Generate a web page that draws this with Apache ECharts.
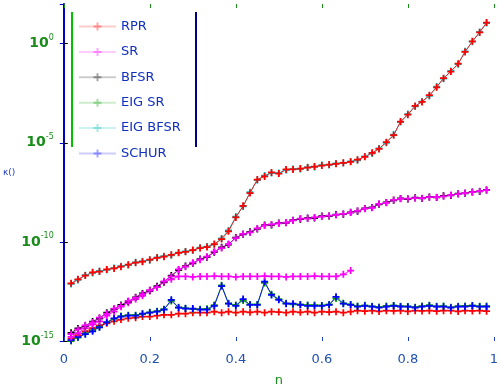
<!DOCTYPE html>
<html>
<head>
<meta charset="utf-8">
<script src="https://cdn.jsdelivr.net/npm/echarts@6/dist/echarts.min.js"></script>
<style>
  html, body { margin: 0; padding: 0; background: #fff; }
  #chart { width: 501px; height: 392px; }
</style>
</head>
<body>
<div id="chart"></div>
<script>
// n grid (x axis)
const nValues = [
  0.017, 0.033, 0.050, 0.067, 0.083, 0.100, 0.117, 0.133, 0.150, 0.167,
  0.183, 0.200, 0.217, 0.233, 0.250, 0.267, 0.283, 0.300, 0.317, 0.333,
  0.350, 0.367, 0.383, 0.400, 0.417, 0.433, 0.450, 0.467, 0.483, 0.500,
  0.517, 0.533, 0.550, 0.567, 0.583, 0.600, 0.617, 0.633, 0.650, 0.667,
  0.683, 0.700, 0.717, 0.733, 0.750, 0.767, 0.783, 0.800, 0.817, 0.833,
  0.850, 0.867, 0.883, 0.900, 0.917, 0.933, 0.950, 0.967, 0.983
];

const rprTop = [
  8.1e-13, 1.3e-12, 2.0e-12, 2.9e-12, 3.2e-12, 4.1e-12, 4.6e-12, 5.6e-12, 7.1e-12, 8.9e-12,
  1.0e-11, 1.26e-11, 1.58e-11, 1.78e-11, 2.24e-11, 2.82e-11, 3.16e-11, 3.89e-11, 4.9e-11, 5.5e-11,
  7.8e-11, 1.38e-10, 3.4e-10, 1.7e-9, 6.6e-9, 2.9e-8, 1.4e-7, 2.0e-7, 3.2e-7, 2.8e-7,
  4.5e-7, 4.5e-7, 5.0e-7, 5.6e-7, 6.3e-7, 7.1e-7, 7.9e-7, 8.7e-7, 9.8e-7, 1.1e-6,
  1.4e-6, 1.95e-6, 3.1e-6, 4.9e-6, 1.07e-5, 2.4e-5, 1.17e-4, 2.6e-4, 7.2e-4, 1.15e-3,
  2.5e-3, 6.3e-3, 1.8e-2, 3.9e-2, 9.8e-2, 0.38, 1.32, 3.7, 11.5
];
const eigBfsrTop = [
  7.6e-13, 1.2e-12, 2.1e-12, 2.7e-12, 3.4e-12, 3.9e-12, 4.8e-12, 5.9e-12, 6.8e-12, 9.3e-12,
  1.05e-11, 1.2e-11, 1.65e-11, 1.9e-11, 2.1e-11, 2.9e-11, 3.3e-11, 3.7e-11, 5.1e-11, 5.8e-11,
  7.4e-11, 1.5e-10, 3.8e-10, 1.9e-9, 6.1e-9, 3.2e-8, 1.3e-7, 2.2e-7, 3.0e-7, 3.0e-7,
  4.2e-7, 4.8e-7, 4.7e-7, 5.9e-7, 6.0e-7, 7.5e-7, 7.6e-7, 9.1e-7, 9.4e-7, 1.15e-6,
  1.3e-6, 2.05e-6, 2.9e-6, 5.2e-6, 1.0e-5, 2.6e-5, 1.1e-4, 2.8e-4, 6.8e-4, 1.2e-3,
  2.3e-3, 6.8e-3, 1.7e-2, 4.2e-2, 9.2e-2, 0.41, 1.25, 3.9, 11.0
];
const srUpper = [
  2.2e-15, 3.9e-15, 6.2e-15, 8.7e-15, 1.5e-14, 2.4e-14, 4.3e-14, 6.0e-14, 1.05e-13, 1.5e-13,
  2.3e-13, 3.7e-13, 5.2e-13, 1.02e-12, 1.8e-12, 4.1e-12, 5.6e-12, 8.9e-12, 1.26e-11, 1.78e-11,
  3.2e-11, 4.9e-11, 7.8e-11, 1.55e-10, 2.5e-10, 3.0e-10, 4.8e-10, 6.8e-10, 7.6e-10, 8.5e-10,
  9.5e-10, 1.2e-9, 1.5e-9, 1.5e-9, 1.7e-9, 1.9e-9, 2.1e-9, 2.3e-9, 2.6e-9, 3.0e-9,
  3.7e-9, 4.7e-9, 5.2e-9, 8.3e-9, 9.3e-9, 1.3e-8, 1.5e-8, 1.5e-8, 1.6e-8, 1.6e-8,
  1.8e-8, 1.8e-8, 2.0e-8, 2.3e-8, 2.6e-8, 2.9e-8, 3.2e-8, 3.6e-8, 4.1e-8
];
const bfsrUpper = [
  2.6e-15, 4.3e-15, 5.8e-15, 9.5e-15, 1.4e-14, 2.7e-14, 4.0e-14, 6.6e-14, 9.8e-14, 1.6e-13,
  2.5e-13, 3.5e-13, 5.8e-13, 9.5e-13, 2.0e-12, 3.8e-12, 6.0e-12, 8.3e-12, 1.35e-11, 1.7e-11,
  3.0e-11, 5.3e-11, 7.3e-11, 1.65e-10, 2.4e-10, 3.2e-10, 4.5e-10, 7.1e-10, 7.2e-10, 8.9e-10,
  9.1e-10, 1.25e-9, 1.4e-9, 1.6e-9, 1.6e-9, 2.0e-9, 2.0e-9, 2.4e-9, 2.5e-9, 3.1e-9,
  3.5e-9, 4.9e-9, 5.5e-9, 7.9e-9, 9.8e-9, 1.25e-8, 1.55e-8, 1.45e-8, 1.7e-8, 1.55e-8,
  1.85e-8, 1.75e-8, 2.1e-8, 2.2e-8, 2.7e-8, 2.8e-8, 3.3e-8, 3.5e-8, 4.2e-8
];
// stops at n = 0.667
const srFlat = [
  1.6e-15, 2.5e-15, 4.4e-15, 6.9e-15, 9.7e-15, 1.9e-14, 3.0e-14, 5.4e-14, 8.5e-14, 1.3e-13,
  1.9e-13, 3.3e-13, 5.2e-13, 9.1e-13, 1.3e-12, 1.8e-12, 1.8e-12, 1.7e-12, 1.8e-12, 1.8e-12,
  1.9e-12, 1.8e-12, 1.8e-12, 1.7e-12, 1.8e-12, 1.8e-12, 1.8e-12, 1.9e-12, 1.8e-12, 1.8e-12,
  1.7e-12, 1.8e-12, 1.8e-12, 1.8e-12, 1.9e-12, 1.8e-12, 1.8e-12, 1.8e-12, 2.3e-12, 3.6e-12
];
const rprBottom = [
  1.3e-15, 1.9e-15, 3.1e-15, 4.4e-15, 6.2e-15, 7.8e-15, 9.8e-15, 1.2e-14, 1.4e-14, 1.5e-14,
  1.7e-14, 1.7e-14, 1.9e-14, 2.1e-14, 2.1e-14, 2.4e-14, 2.4e-14, 2.7e-14, 2.7e-14, 2.7e-14,
  3.0e-14, 2.7e-14, 3.0e-14, 2.7e-14, 3.0e-14, 2.8e-14, 3.0e-14, 2.7e-14, 3.0e-14, 2.9e-14,
  2.7e-14, 3.0e-14, 2.8e-14, 3.0e-14, 2.7e-14, 3.0e-14, 2.9e-14, 3.0e-14, 2.7e-14, 3.0e-14,
  3.4e-14, 3.2e-14, 3.4e-14, 3.1e-14, 3.4e-14, 3.3e-14, 3.4e-14, 3.1e-14, 3.4e-14, 3.3e-14,
  3.4e-14, 3.2e-14, 3.4e-14, 3.4e-14, 3.1e-14, 3.4e-14, 3.3e-14, 3.4e-14, 3.2e-14
];
const eigSr = [
  1.0e-15, 1.5e-15, 2.4e-15, 3.4e-15, 5.2e-15, 9.0e-15, 1.3e-14, 1.8e-14, 2.0e-14, 2.0e-14,
  2.3e-14, 2.8e-14, 3.2e-14, 4.0e-14, 1.05e-13, 5.0e-14, 4.5e-14, 4.0e-14, 4.0e-14, 4.2e-14,
  6.5e-14, 6.4e-13, 8.0e-14, 6.5e-14, 1.1e-13, 7.0e-14, 7.0e-14, 8.5e-13, 2.3e-13, 1.3e-13,
  8.0e-14, 7.0e-14, 7.0e-14, 6.5e-14, 6.5e-14, 6.2e-14, 7.0e-14, 1.4e-13, 8.0e-14, 7.0e-14,
  5.8e-14, 6.3e-14, 5.6e-14, 5.2e-14, 5.9e-14, 6.2e-14, 5.7e-14, 5.5e-14, 5.1e-14, 5.8e-14,
  6.4e-14, 5.6e-14, 5.8e-14, 5.0e-14, 5.7e-14, 5.9e-14, 6.2e-14, 5.6e-14, 5.8e-14
];
const schur = [
  1.1e-15, 1.6e-15, 2.2e-15, 3.1e-15, 4.9e-15, 8.7e-15, 1.4e-14, 1.7e-14, 1.9e-14, 1.9e-14,
  2.4e-14, 2.7e-14, 3.0e-14, 3.8e-14, 1.2e-13, 4.8e-14, 4.3e-14, 4.3e-14, 3.8e-14, 3.8e-14,
  6.0e-14, 5.9e-13, 7.6e-14, 6.0e-14, 1.3e-13, 6.7e-14, 6.7e-14, 1.0e-12, 2.1e-13, 1.2e-13,
  7.6e-14, 7.6e-14, 6.7e-14, 6.0e-14, 6.0e-14, 6.0e-14, 6.7e-14, 1.7e-13, 7.6e-14, 6.7e-14,
  5.4e-14, 6.0e-14, 5.4e-14, 4.8e-14, 5.4e-14, 6.0e-14, 5.4e-14, 5.4e-14, 4.8e-14, 5.4e-14,
  6.0e-14, 5.4e-14, 5.4e-14, 4.8e-14, 5.4e-14, 5.4e-14, 6.0e-14, 5.4e-14, 5.4e-14
];

const methodNames = ['RPR', 'SR', 'BFSR', 'EIG SR', 'EIG BFSR', 'SCHUR'];
const methodColors = {
  'RPR': '#ff0000',
  'SR': '#ff00ff',
  'BFSR': '#000000',
  'EIG SR': '#00a000',
  'EIG BFSR': '#00bfbf',
  'SCHUR': '#0000ff'
};
const plusSymbol = 'path://M3,0H5V3H8V5H5V8H3V5H0V3H3Z';

function makeSeries (name, values) {
  return {
    name: name,
    type: 'line',
    data: values.map((v, i) => [nValues[i], v]),
    symbol: plusSymbol,
    symbolSize: 7,
    showAllSymbol: true,
    color: methodColors[name],
    lineStyle: { width: 1, opacity: 0.85 },
    animation: false
  };
}

const myChart = echarts.init(document.getElementById('chart'));
myChart.setOption({
  backgroundColor: '#fff',
  grid: { left: 62, right: -1, top: 4, bottom: 44 },
  legend: {
    data: methodNames,
    orient: 'vertical',
    left: 78,
    top: 20,
    padding: 0,
    itemWidth: 37,
    itemHeight: 10,
    itemGap: 12.4,
    itemStyle: { opacity: 0.35 },
    lineStyle: { opacity: 0.2 },
    textStyle: { color: '#1030c0', fontSize: 13, fontFamily: 'DejaVu Sans' }
  },
  xAxis: [
    {
      type: 'value',
      min: 0,
      max: 1,
      interval: 0.2,
      name: 'n',
      nameLocation: 'middle',
      nameGap: 33,
      nameTextStyle: { color: '#1a8c1a', fontSize: 13, fontFamily: 'DejaVu Sans' },
      axisLine: { show: false },
      axisTick: { inside: true, length: 4, lineStyle: { color: '#2040c0' } },
      axisLabel: {
        color: '#2050b0',
        fontSize: 13,
        margin: 12,
        fontFamily: 'DejaVu Sans',
        formatter: (v) => String(+v.toFixed(1))
      },
      splitLine: { show: false }
    },
    {
      type: 'value',
      position: 'top',
      min: 0,
      max: 1,
      interval: 0.2,
      axisLine: { show: false },
      axisTick: { inside: true, length: 4, lineStyle: { color: '#1a8c1a' } },
      axisLabel: { show: false },
      splitLine: { show: false }
    }
  ],
  yAxis: [
    {
      type: 'log',
      logBase: 10,
      min: 1e-15,
      max: 100,
      interval: 5,
      name: 'κ()',
      nameLocation: 'middle',
      nameRotate: 0,
      nameGap: 37,
      nameTextStyle: { color: '#2040c0', fontSize: 9, fontFamily: 'DejaVu Sans' },
      axisLine: { show: true, lineStyle: { color: '#0000cc', width: 2 } },
      axisTick: { inside: true, length: 4, lineStyle: { color: '#000' } },
      minorTick: { show: false },
      axisLabel: {
        margin: 10,
        showMaxLabel: false,
        formatter: (v) => '{b|10}{s|' + Math.round(Math.log10(v)) + '}',
        rich: {
          b: { color: '#1a8c1a', fontSize: 14, fontWeight: 'bold', fontFamily: 'DejaVu Sans' },
          s: { color: '#1a8c1a', fontSize: 8, fontFamily: 'DejaVu Sans', padding: [0, 0, 11, 0] }
        }
      },
      splitLine: { show: false }
    },
    {
      type: 'log',
      logBase: 10,
      position: 'right',
      min: 1e-15,
      max: 100,
      interval: 5,
      axisLine: { show: false },
      axisTick: { inside: true, length: 4, lineStyle: { color: '#0000cc' } },
      axisLabel: { show: false },
      splitLine: { show: false }
    }
  ],
  graphic: [
    { type: 'line', shape: { x1: 72, y1: 12, x2: 72, y2: 147 }, style: { stroke: '#00c000', lineWidth: 2 } },
    { type: 'line', shape: { x1: 196, y1: 12, x2: 196, y2: 147 }, style: { stroke: '#000080', lineWidth: 2 } }
  ],
  series: [
    makeSeries('RPR', rprBottom),
    makeSeries('EIG SR', eigSr),
    makeSeries('SCHUR', schur),
    makeSeries('SR', srFlat),
    makeSeries('BFSR', bfsrUpper),
    makeSeries('SR', srUpper),
    makeSeries('EIG BFSR', eigBfsrTop),
    makeSeries('RPR', rprTop)
  ]
});
</script>
</body>
</html>
